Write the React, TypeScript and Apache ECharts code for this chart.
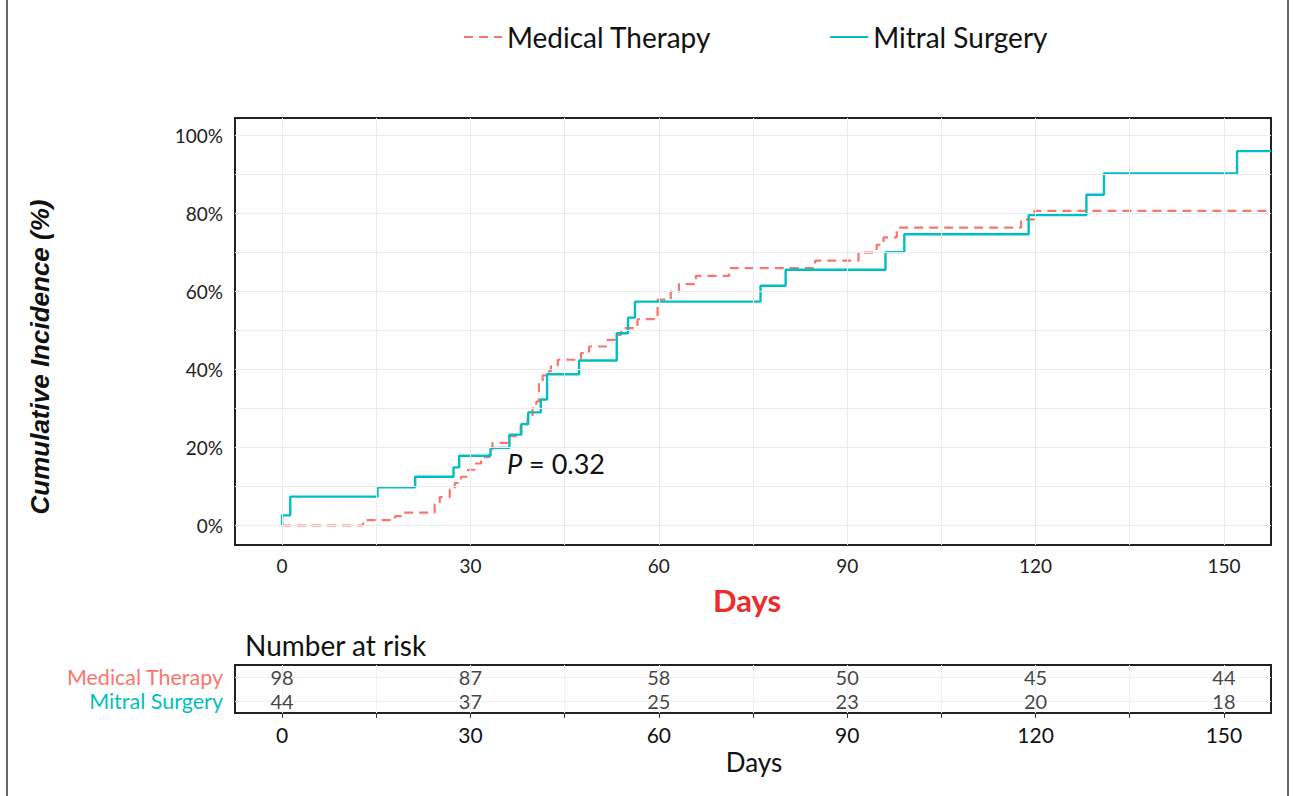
import React, { useEffect, useRef } from "react";
import * as echarts from "echarts";

// ---- data ----
const therapyDays = [0, 12.9, 18.0, 19.2, 24.3, 25.1, 26.7, 27.5, 28.5, 29.6, 30.7, 31.7, 33.0, 33.5, 35.9, 38.0, 39.1, 39.9, 40.5, 40.9, 41.5, 42.1, 42.8, 43.9, 47.6, 48.9, 51.8, 53.4, 54.0, 56.6, 59.8, 61.9, 63.2, 65.9, 71.2, 84.9, 91.8, 94.7, 95.8, 97.9, 117.7, 119.8, 157.5];
const therapyIncidence = [0, 1.4, 2.4, 3.3, 5.4, 7.3, 9.2, 10.9, 12.5, 14.3, 15.9, 17.5, 19.5, 21.2, 22.9, 25.9, 27.6, 30.1, 31.8, 36.5, 38.5, 39.5, 40.8, 42.5, 44.2, 45.9, 47.6, 48.9, 50.6, 52.9, 57.9, 60.0, 61.9, 64.0, 66.0, 67.9, 70.0, 72.0, 73.9, 76.4, 78.5, 80.7, 80.7];

const surgeryDays = [0, 0, 1.3, 15.2, 21.2, 27.3, 28.2, 33.2, 36.2, 38.1, 39.2, 41.2, 42.2, 47.3, 53.3, 55.1, 56.2, 76.2, 80.2, 96.1, 99.1, 118.9, 128.1, 130.9, 152.1, 157.5];
const surgeryIncidence = [0, 2.6, 7.4, 9.8, 12.5, 14.9, 17.9, 19.9, 23.3, 26.0, 29.0, 32.3, 38.8, 42.3, 49.3, 53.3, 57.4, 61.5, 65.6, 70.1, 74.7, 79.6, 84.8, 90.3, 96.0, 96.0];

const riskDays = [0, 30, 60, 90, 120, 150];
const therapyAtRisk = [98, 87, 58, 50, 45, 44];
const surgeryAtRisk = [44, 37, 25, 23, 20, 18];

const groupNames = ["Medical Therapy", "Mitral Surgery"];
const tableRows = ["Mitral Surgery", "Medical Therapy"];

const xTicks = [0, 30, 60, 90, 120, 150];
const xGrid = [0, 15, 30, 45, 60, 75, 90, 105, 120, 135, 150];
const yTicks = [0, 20, 40, 60, 80, 100];
const yGrid = [0, 10, 20, 30, 40, 50, 60, 70, 80, 90, 100];
const X_MIN = -7.5;
const X_MAX = 157.5;
const Y_MIN = -5;
const Y_MAX = 104.5;

const RED = "#F8766D";
const TEAL = "#00BFC4";
const FONT = "Lato";

export default function App() {
  const ref = useRef<HTMLDivElement>(null);

  useEffect(() => {
    document.body.style.margin = "0";
    const chart = echarts.init(ref.current!, null, { renderer: "svg" });

    const gridLine = { color: "#EBEBEB", width: 1, type: "solid" };
    const tickStyle = { color: "#333", width: 1 };

    const option: any = {
      animation: false,
      backgroundColor: "#ffffff",
      legend: {
        data: groupNames,
        left: 458,
        top: 18,
        itemWidth: 38,
        itemHeight: 14,
        itemGap: 118,
        itemStyle: { opacity: 0 },
        textStyle: { fontFamily: FONT, fontSize: 28, color: "#111" },
      },
      grid: [
        { left: 235, top: 118, width: 1036, height: 427, show: true, borderColor: "#222", borderWidth: 2, backgroundColor: "transparent" },
        { left: 235, top: 665, width: 1036, height: 48, show: true, borderColor: "#222", borderWidth: 2, backgroundColor: "transparent" },
      ],
      xAxis: [
        {
          type: "value", gridIndex: 0, min: X_MIN, max: X_MAX,
          axisLine: { show: false }, splitLine: { show: false },
          axisTick: { show: true, length: 5, customValues: xTicks, lineStyle: tickStyle },
          axisLabel: { customValues: xTicks, fontFamily: FONT, fontSize: 19, color: "#222", margin: 11 },
        },
        {
          type: "value", gridIndex: 1, min: X_MIN, max: X_MAX,
          axisLine: { show: false }, splitLine: { show: false },
          axisTick: { show: true, length: 5, customValues: xGrid, lineStyle: tickStyle },
          axisLabel: { customValues: xTicks, fontFamily: FONT, fontSize: 21, color: "#111", margin: 11 },
        },
      ],
      yAxis: [
        {
          type: "value", gridIndex: 0, min: Y_MIN, max: Y_MAX,
          axisLine: { show: false }, splitLine: { show: false },
          axisTick: { show: true, length: 5, customValues: yTicks, lineStyle: tickStyle },
          axisLabel: { customValues: yTicks, formatter: (v: number) => v + "%", fontFamily: FONT, fontSize: 19, color: "#222", margin: 12 },
        },
        {
          type: "category", gridIndex: 1, data: tableRows,
          axisLine: { show: false }, splitLine: { show: false },
          axisTick: { show: true, alignWithLabel: true, length: 4, lineStyle: tickStyle },
          axisLabel: {
            interval: 0, fontFamily: FONT, fontSize: 21.5, margin: 12,
            color: (v: string) => (v === "Medical Therapy" ? RED : TEAL),
          },
        },
      ],
      series: [
        {
          name: "gridlines", type: "line", xAxisIndex: 0, yAxisIndex: 0, data: [], silent: true, z: 1,
          markLine: {
            silent: true, symbol: ["none", "none"], label: { show: false }, lineStyle: gridLine,
            data: [...xGrid.map((v) => ({ xAxis: v })), ...yGrid.map((v) => ({ yAxis: v }))],
          },
        },
        {
          name: "tablegrid", type: "line", xAxisIndex: 1, yAxisIndex: 1, data: [], silent: true, z: 1,
          markLine: {
            silent: true, symbol: ["none", "none"], label: { show: false },
            lineStyle: { color: "#F0F0F0", width: 1, type: "solid" },
            data: [...xGrid.map((v) => ({ xAxis: v })), ...tableRows.map((v) => ({ yAxis: v }))],
          },
        },
        {
          name: groupNames[0], type: "line", step: "end", xAxisIndex: 0, yAxisIndex: 0, z: 3,
          symbol: "none", showSymbol: false,
          data: therapyDays.map((d, i) => [d, therapyIncidence[i]]),
          lineStyle: { color: RED, width: 2.2, type: [9, 6] },
          itemStyle: { color: RED },
        },
        {
          name: groupNames[1], type: "line", step: "end", xAxisIndex: 0, yAxisIndex: 0, z: 4,
          symbol: "none", showSymbol: false,
          data: surgeryDays.map((d, i) => [d, surgeryIncidence[i]]),
          lineStyle: { color: TEAL, width: 2.4 },
          itemStyle: { color: TEAL },
        },
        {
          name: "riskTherapy", type: "scatter", xAxisIndex: 1, yAxisIndex: 1, symbolSize: 0, z: 5,
          data: riskDays.map((d, i) => [d, "Medical Therapy", therapyAtRisk[i]]),
          label: { show: true, position: "inside", formatter: (p: any) => String(p.value[2]), fontFamily: FONT, fontSize: 20, color: "#111" },
        },
        {
          name: "riskSurgery", type: "scatter", xAxisIndex: 1, yAxisIndex: 1, symbolSize: 0, z: 5,
          data: riskDays.map((d, i) => [d, "Mitral Surgery", surgeryAtRisk[i]]),
          label: { show: true, position: "inside", formatter: (p: any) => String(p.value[2]), fontFamily: FONT, fontSize: 20, color: "#111" },
        },
      ],
      graphic: [
        { type: "line", shape: { x1: 7, y1: 0, x2: 7, y2: 796 }, style: { stroke: "#333", lineWidth: 1.5 } },
        { type: "line", shape: { x1: 1288, y1: 0, x2: 1288, y2: 796 }, style: { stroke: "#333", lineWidth: 1.5 } },
        {
          type: "text", x: 40, y: 357, rotation: Math.PI / 2,
          style: { text: "Cumulative Incidence (%)", font: 'italic bold 26px "Liberation Sans"', fill: "#111", textAlign: "center", textVerticalAlign: "middle", align: "center", verticalAlign: "middle" },
        },
        {
          type: "text", x: 747, y: 600,
          style: { text: "Days", font: `bold 31px ${FONT}`, fill: "#EE2A2A", textAlign: "center", textVerticalAlign: "middle", align: "center", verticalAlign: "middle" },
        },
        {
          type: "text", x: 507, y: 463, z: 10,
          style: {
            text: "{i|P} = 0.32", font: `27px ${FONT}`, fill: "#111", textAlign: "left", textVerticalAlign: "middle", align: "left", verticalAlign: "middle",
            rich: { i: { fontStyle: "italic", fontFamily: FONT, fontSize: 27, fill: "#111" } },
          },
        },
        {
          type: "text", x: 245, y: 645,
          style: { text: "Number at risk", font: `28px ${FONT}`, fill: "#111", textAlign: "left", textVerticalAlign: "middle", align: "left", verticalAlign: "middle" },
        },
        {
          type: "text", x: 754, y: 762,
          style: { text: "Days", font: `26px ${FONT}`, fill: "#111", textAlign: "center", textVerticalAlign: "middle", align: "center", verticalAlign: "middle" },
        },
      ],
    };

    chart.setOption(option);
    return () => chart.dispose();
  }, []);

  return <div ref={ref} style={{ width: 1293, height: 796 }} />;
}
